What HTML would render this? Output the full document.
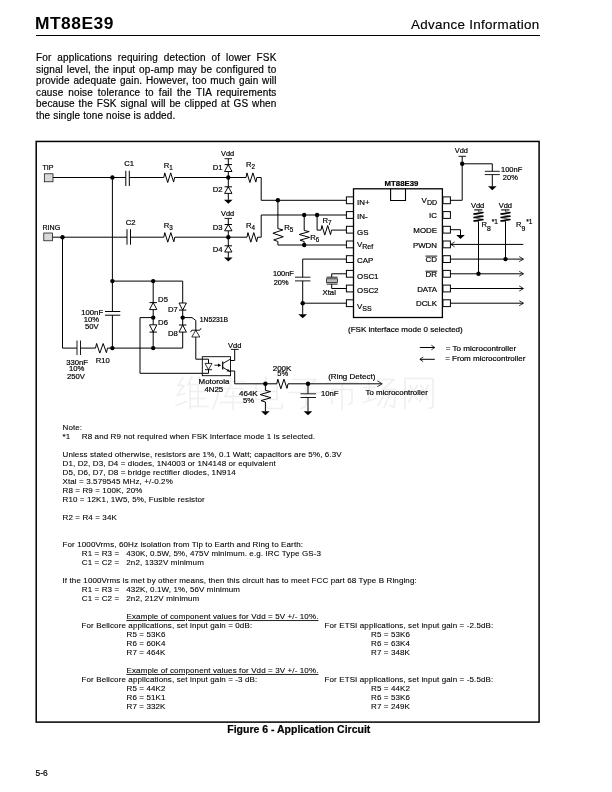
<!DOCTYPE html>
<html><head><meta charset="utf-8"><title>MT88E39</title>
<style>
html,body{margin:0;padding:0;background:#fff}
body{width:612px;height:792px;position:relative;overflow:hidden;font-family:"Liberation Sans",sans-serif;color:#000}
.h1{position:absolute;left:35.0px;top:11.2px;font-size:17.4px;font-weight:bold;line-height:24px;white-space:nowrap;letter-spacing:0.5px}
.h2{position:absolute;right:72.8px;top:15.5px;font-size:13.4px;line-height:18px;white-space:nowrap;letter-spacing:0.3px;margin-right:-0.3px;-webkit-text-stroke:0.15px #000}
.rule{position:absolute;left:36px;top:34.5px;width:503.5px;height:1.1px;background:#000}
.p{position:absolute;left:35.5px;top:52.1px;width:240.5px;font-size:10px;letter-spacing:0.14px;line-height:11.5px;color:#000;-webkit-text-stroke:0.18px #000}
.p div{text-align:justify;text-align-last:justify;white-space:nowrap}
.p div.l{text-align-last:left}
svg{position:absolute;left:0;top:0;will-change:transform}
.h1,.h2,.p{will-change:transform}
svg text{font-family:"Liberation Sans",sans-serif;fill:#000;stroke:#000;stroke-width:0.2px}
svg text.n{letter-spacing:0.115px;stroke-width:0.1px}
</style></head><body>
<div class="h1">MT88E39</div>
<div class="h2">Advance Information</div>
<div class="rule"></div>
<div class="p">
<div>For applications requiring detection of lower FSK</div>
<div>signal level, the input op-amp may be configured to</div>
<div>provide adequate gain. However, too much gain will</div>
<div>cause noise tolerance to fail the TIA requirements</div>
<div>because the FSK signal will be clipped at GS when</div>
<div class="l">the single tone noise is added.</div>
</div>
<svg width="612" height="792" viewBox="0 0 612 792" fill="none" stroke="#000" stroke-width="1" stroke-linecap="butt" stroke-linejoin="miter">
<g stroke="#f0f0f0" stroke-width="1.7" stroke-linecap="round" stroke-linejoin="round">
<path d="M183 377.5 L178 385.5 L184 385.5 L177 395.5 L185 393.5"/>
<path d="M176 405.5 L186 401.5"/>
<path d="M192 376.5 L188 384.5"/>
<path d="M190 382.5 L190 408.5"/>
<path d="M190 384.5 L207 384.5"/>
<path d="M190 391.5 L205 391.5"/>
<path d="M190 398.5 L205 398.5"/>
<path d="M190 406.5 L208 406.5"/>
<path d="M198 384.5 L198 406.5"/>
<path d="M199 376.5 L201 381.5"/>
<path d="M229 375.5 L231 379.5"/>
<path d="M216 381.5 L245 381.5"/>
<path d="M218 381.5 L218 395.5 L213 408.5"/>
<path d="M222 388.5 L243 388.5"/>
<path d="M231 384.5 L225 396.5"/>
<path d="M225 396.5 L242 396.5"/>
<path d="M220 402.5 L245 402.5"/>
<path d="M233 391.5 L233 409.5"/>
<path d="M256 383.5 L256 399.5"/>
<path d="M256 383.5 L277 383.5 L277 399.5"/>
<path d="M256 391.5 L277 391.5"/>
<path d="M256 399.5 L277 399.5"/>
<path d="M266 376.5 L266 405.5 L268 408.5 L282 408.5 L282 403.5"/>
<path d="M293 379.5 L316 379.5 L306 388.5"/>
<path d="M306 388.5 L306 406.5 L301 408.5"/>
<path d="M289 392.5 L321 392.5"/>
<path d="M341 375.5 L343 379.5"/>
<path d="M327 382.5 L357 382.5"/>
<path d="M332 389.5 L332 403.5"/>
<path d="M332 389.5 L352 389.5 L352 402.5 L349 404.5"/>
<path d="M342 382.5 L342 409.5"/>
<path d="M364 387.5 L375 387.5"/>
<path d="M369 378.5 L369 400.5"/>
<path d="M363 402.5 L376 398.5"/>
<path d="M378 379.5 L394 379.5 L383 389.5"/>
<path d="M383 389.5 L396 389.5 L394 407.5 L390 405.5"/>
<path d="M387 389.5 L378 405.5"/>
<path d="M392 389.5 L384 407.5"/>
<path d="M405 378.5 L405 408.5"/>
<path d="M405 378.5 L433 378.5 L433 407.5 L429 408.5"/>
<path d="M410 385.5 L417 399.5"/>
<path d="M417 385.5 L409 401.5"/>
<path d="M421 385.5 L428 399.5"/>
<path d="M428 385.5 L420 401.5"/>
</g>
<rect x="36.2" y="141.45" width="502.9" height="580.65" stroke-width="1.5"/>
<rect x="44.3" y="173.8" width="8.7" height="8" stroke-width="0.7" fill="#d8d8d8"/>
<rect x="43.8" y="233" width="8.7" height="7.8" stroke-width="0.7" fill="#d8d8d8"/>
<text x="42.5" y="170" font-size="7.1">TIP</text>
<text x="42.5" y="230" font-size="7.1">RING</text>
<line x1="53" y1="177.5" x2="125.8" y2="177.5"/>
<circle cx="112.4" cy="177.5" r="2.2" fill="#000" stroke="none"/>
<line x1="125.8" y1="170.8" x2="125.8" y2="186" stroke-width="1"/>
<line x1="129.3" y1="170.8" x2="129.3" y2="186" stroke-width="1"/>
<text x="124.3" y="166" font-size="7.7">C1</text>
<line x1="129.3" y1="177.5" x2="163.8" y2="177.5"/>
<path d="M163.8 177.5 L164.77 172.9 L167.69 182.5 L170.71 172.9 L173.63 182.1 L174.6 177.5" stroke-width="1"/>
<text x="163.7" y="167.5" font-size="7.7">R<tspan font-size="6.3" dy="2">1</tspan></text>
<line x1="174.6" y1="177.5" x2="246" y2="177.5"/>
<text x="221" y="155.7" font-size="7.4">Vdd</text>
<line x1="224.6" y1="158.7" x2="232" y2="158.7" stroke-width="0.9"/>
<line x1="228.3" y1="158.7" x2="228.3" y2="199.9"/>
<path d="M224.6 171.5 L232 171.5 L228.3 164.6 Z" stroke-width="0.95" fill="#fff"/>
<line x1="224.6" y1="164.6" x2="232" y2="164.6" stroke-width="1"/>
<text x="212.7" y="170.1" font-size="7.7">D1</text>
<circle cx="228.3" cy="177.5" r="2.2" fill="#000" stroke="none"/>
<path d="M224.6 193.4 L232 193.4 L228.3 186.8 Z" stroke-width="0.95" fill="#fff"/>
<line x1="224.6" y1="186.8" x2="232" y2="186.8" stroke-width="1"/>
<text x="212.7" y="192" font-size="7.7">D2</text>
<path d="M224 199.7 L232.6 199.7 L228.3 203.7 Z" fill="#000" stroke="none"/>
<path d="M246 177.5 L246.97 172.9 L249.89 182.5 L252.91 172.9 L255.83 182.1 L256.8 177.5" stroke-width="1"/>
<text x="246" y="167.2" font-size="7.7">R<tspan font-size="6.3" dy="2">2</tspan></text>
<path d="M256.8 177.5 L261.2 177.5 L261.2 200.3 L346.5 200.3"/>
<line x1="52.5" y1="237.2" x2="127" y2="237.2"/>
<circle cx="62.5" cy="237.2" r="2.2" fill="#000" stroke="none"/>
<line x1="127" y1="229.2" x2="127" y2="244.7" stroke-width="1"/>
<line x1="130.5" y1="229.2" x2="130.5" y2="244.7" stroke-width="1"/>
<text x="125.8" y="225" font-size="7.7">C2</text>
<line x1="130.5" y1="237.2" x2="163.8" y2="237.2"/>
<path d="M163.8 237.2 L164.79 232.6 L167.76 242.2 L170.84 232.6 L173.81 241.8 L174.8 237.2" stroke-width="1"/>
<text x="163.7" y="227.7" font-size="7.7">R<tspan font-size="6.3" dy="2">3</tspan></text>
<line x1="174.8" y1="237.2" x2="247" y2="237.2"/>
<text x="221" y="216.3" font-size="7.4">Vdd</text>
<line x1="224.6" y1="218.4" x2="232" y2="218.4" stroke-width="0.9"/>
<line x1="228.3" y1="218.4" x2="228.3" y2="257.7"/>
<path d="M224.6 230.8 L232 230.8 L228.3 224.5 Z" stroke-width="0.95" fill="#fff"/>
<line x1="224.6" y1="224.5" x2="232" y2="224.5" stroke-width="1"/>
<text x="212.7" y="230" font-size="7.7">D3</text>
<circle cx="228.3" cy="237.2" r="2.2" fill="#000" stroke="none"/>
<path d="M224.6 252 L232 252 L228.3 245.8 Z" stroke-width="0.95" fill="#fff"/>
<line x1="224.6" y1="245.8" x2="232" y2="245.8" stroke-width="1"/>
<text x="212.7" y="251.5" font-size="7.7">D4</text>
<path d="M224 257.5 L232.6 257.5 L228.3 261.5 Z" fill="#000" stroke="none"/>
<path d="M247 237.2 L247.95 232.6 L250.82 242.2 L253.78 232.6 L256.65 241.8 L257.6 237.2" stroke-width="1"/>
<text x="246" y="227.7" font-size="7.7">R<tspan font-size="6.3" dy="2">4</tspan></text>
<path d="M257.6 237.2 L261.2 237.2 L261.2 215 L346.5 215"/>
<circle cx="277.9" cy="200.3" r="2.2" fill="#000" stroke="none"/>
<line x1="277.9" y1="200.3" x2="277.9" y2="228.6"/>
<path d="M277.9 228.6 L282.9 229.89 L272.9 233.24 L283.3 236.73 L273.7 239.95 L277.9 241.5" stroke-width="1"/>
<path d="M277.9 241.5 L277.9 245 L346.5 245"/>
<text x="284.2" y="230.3" font-size="7.7">R<tspan font-size="6.3" dy="2">5</tspan></text>
<circle cx="304.2" cy="215" r="2.2" fill="#000" stroke="none"/>
<circle cx="304.2" cy="245" r="2.2" fill="#000" stroke="none"/>
<line x1="304.2" y1="215" x2="304.2" y2="230.5"/>
<path d="M304.2 230.5 L309.2 231.6 L299.2 234.46 L309.6 237.43 L300 240.18 L304.2 241.5" stroke-width="1"/>
<line x1="304.2" y1="241.5" x2="304.2" y2="245"/>
<text x="310.2" y="239.7" font-size="7.7">R<tspan font-size="6.3" dy="2">6</tspan></text>
<circle cx="317.1" cy="215" r="2.2" fill="#000" stroke="none"/>
<path d="M317.1 215 L317.1 230.1 L321 230.1"/>
<path d="M321 230.1 L321.94 225.5 L324.78 235.1 L327.72 225.5 L330.56 234.7 L331.5 230.1" stroke-width="1"/>
<line x1="331.5" y1="230.1" x2="346.5" y2="230.1"/>
<text x="322.4" y="223.4" font-size="7.7">R<tspan font-size="6.3" dy="2">7</tspan></text>
<path d="M346.5 259.1 L302.7 259.1 L302.7 277.2"/>
<line x1="295" y1="277.2" x2="310.4" y2="277.2" stroke-width="0.9"/>
<line x1="295" y1="280.9" x2="310.4" y2="280.9" stroke-width="0.9"/>
<line x1="302.7" y1="280.9" x2="302.7" y2="314.5"/>
<circle cx="302.7" cy="303.2" r="2.2" fill="#000" stroke="none"/>
<line x1="302.7" y1="303.2" x2="346.5" y2="303.2"/>
<path d="M298.4 314.3 L307 314.3 L302.7 318.3 Z" fill="#000" stroke="none"/>
<text x="272.9" y="275.7" font-size="7.4">100nF</text>
<text x="273.7" y="284.9" font-size="7.4">20%</text>
<path d="M346.5 273.8 L331.7 273.8 L331.7 277.2"/>
<line x1="326.6" y1="277.2" x2="337.6" y2="277.2" stroke-width="0.9"/>
<rect x="326.6" y="278.8" width="11" height="3.6" stroke-width="0.7" fill="#bbb"/>
<line x1="326.6" y1="284.1" x2="337.6" y2="284.1" stroke-width="0.9"/>
<path d="M331.7 284.1 L331.7 288.5 L346.5 288.5"/>
<text x="322.6" y="294.6" font-size="7.7">Xtal</text>
<rect x="353.5" y="188.8" width="88.9" height="128.7" stroke-width="1.3"/>
<path d="M390.6 188.8 L390.6 200.5 L405.5 200.5 L405.5 188.8" stroke-width="1.1"/>
<text x="384.6" y="186" font-size="7.8" font-weight="bold">MT88E39</text>
<rect x="346.4" y="196.9" width="7.1" height="6.8" stroke-width="1"/>
<rect x="442.9" y="196.9" width="7.5" height="6.8" stroke-width="1"/>
<rect x="346.4" y="211.6" width="7.1" height="6.8" stroke-width="1"/>
<rect x="442.9" y="211.6" width="7.5" height="6.8" stroke-width="1"/>
<rect x="346.4" y="226.3" width="7.1" height="6.8" stroke-width="1"/>
<rect x="442.9" y="226.3" width="7.5" height="6.8" stroke-width="1"/>
<rect x="346.4" y="241" width="7.1" height="6.8" stroke-width="1"/>
<rect x="442.9" y="241" width="7.5" height="6.8" stroke-width="1"/>
<rect x="346.4" y="255.7" width="7.1" height="6.8" stroke-width="1"/>
<rect x="442.9" y="255.7" width="7.5" height="6.8" stroke-width="1"/>
<rect x="346.4" y="270.4" width="7.1" height="6.8" stroke-width="1"/>
<rect x="442.9" y="270.4" width="7.5" height="6.8" stroke-width="1"/>
<rect x="346.4" y="285.1" width="7.1" height="6.8" stroke-width="1"/>
<rect x="442.9" y="285.1" width="7.5" height="6.8" stroke-width="1"/>
<rect x="346.4" y="299.8" width="7.1" height="6.8" stroke-width="1"/>
<rect x="442.9" y="299.8" width="7.5" height="6.8" stroke-width="1"/>
<text x="357" y="204.8" font-size="7.9">IN+</text>
<text x="357" y="219.4" font-size="7.9">IN-</text>
<text x="357" y="234.5" font-size="7.9">GS</text>
<text x="357" y="246.9" font-size="7.9">V<tspan font-size="7" dy="2.4">Ref</tspan></text>
<text x="357" y="262.6" font-size="7.9">CAP</text>
<text x="357" y="278.7" font-size="7.9">OSC1</text>
<text x="357" y="292.7" font-size="7.9">OSC2</text>
<text x="357" y="308.7" font-size="7.9">V<tspan font-size="7" dy="2.4">SS</tspan></text>
<text x="437" y="203.1" font-size="7.9" text-anchor="end">V<tspan font-size="7" dy="2.3">DD</tspan></text>
<text x="437" y="217.7" font-size="7.9" text-anchor="end">IC</text>
<text x="437" y="232.7" font-size="7.9" text-anchor="end">MODE</text>
<text x="437" y="247.5" font-size="7.9" text-anchor="end">PWDN</text>
<text x="437" y="261.7" font-size="7.9" text-anchor="end">CD</text>
<text x="437" y="276.8" font-size="7.9" text-anchor="end">DR</text>
<text x="437" y="291.8" font-size="7.9" text-anchor="end">DATA</text>
<text x="437" y="305.8" font-size="7.9" text-anchor="end">DCLK</text>
<line x1="425.4" y1="256.1" x2="437.2" y2="256.1" stroke-width="0.9"/>
<line x1="425.4" y1="271.2" x2="437.2" y2="271.2" stroke-width="0.9"/>
<text x="348" y="332" font-size="8">(FSK interface mode 0 selected)</text>
<text x="454.8" y="153" font-size="7.4">Vdd</text>
<line x1="458.5" y1="156.3" x2="466" y2="156.3" stroke-width="0.9"/>
<path d="M462.2 156.3 L462.2 200.3 L450.3 200.3"/>
<circle cx="462.2" cy="163.8" r="2.2" fill="#000" stroke="none"/>
<path d="M462.2 163.8 L492.3 163.8 L492.3 171.3"/>
<line x1="484.8" y1="171.3" x2="499.8" y2="171.3" stroke-width="0.9"/>
<line x1="484.8" y1="174.6" x2="499.8" y2="174.6" stroke-width="0.9"/>
<line x1="492.3" y1="174.6" x2="492.3" y2="186.5"/>
<path d="M488 186.3 L496.6 186.3 L492.3 190.3 Z" fill="#000" stroke="none"/>
<text x="501" y="171.8" font-size="7.5">100nF</text>
<text x="502.8" y="180.1" font-size="7.5">20%</text>
<path d="M450.3 229.7 L460.5 229.7 L460.5 235.3"/>
<path d="M456.2 235.1 L464.8 235.1 L460.5 239.1 Z" fill="#000" stroke="none"/>
<line x1="451" y1="244.4" x2="523.3" y2="244.4"/>
<path d="M454.7 241.9 L450.8 244.4 L454.7 246.9" stroke-width="0.8"/>
<line x1="450.3" y1="259.1" x2="523" y2="259.1"/>
<path d="M519.2 256.6 L523.6 259.1 L519.2 261.6" stroke-width="0.8"/>
<line x1="450.3" y1="273.8" x2="523" y2="273.8"/>
<path d="M519.2 271.3 L523.6 273.8 L519.2 276.3" stroke-width="0.8"/>
<line x1="450.3" y1="288.5" x2="523" y2="288.5"/>
<path d="M519.2 286 L523.6 288.5 L519.2 291" stroke-width="0.8"/>
<line x1="450.3" y1="303.2" x2="523" y2="303.2"/>
<path d="M519.2 300.7 L523.6 303.2 L519.2 305.7" stroke-width="0.8"/>
<text x="470.9" y="208.4" font-size="7.5">Vdd</text>
<text x="498.7" y="208.4" font-size="7.5">Vdd</text>
<line x1="474.2" y1="209.9" x2="482.4" y2="209.9" stroke-width="1.1"/>
<line x1="501.2" y1="209.9" x2="509.4" y2="209.9" stroke-width="1.1"/>
<path d="M478.5 210 L478.5 211.6 L483.4 212.6 L473.6 214 L483.4 216.2 L473.6 217.6 L483.4 219.5 L473.6 220.9 L478.5 221.6" stroke-width="0.6"/>
<line x1="473.6" y1="214" x2="483.4" y2="212.6" stroke-width="1.5"/>
<line x1="473.6" y1="217.6" x2="483.4" y2="216.2" stroke-width="1.5"/>
<line x1="473.6" y1="220.9" x2="483.4" y2="219.5" stroke-width="1.5"/>
<line x1="478.5" y1="221.4" x2="478.5" y2="273.8"/>
<circle cx="478.5" cy="273.8" r="2.2" fill="#000" stroke="none"/>
<path d="M505.5 210 L505.5 211.6 L510.4 212.6 L500.6 214 L510.4 216.2 L500.6 217.6 L510.4 219.5 L500.6 220.9 L505.5 221.6" stroke-width="0.6"/>
<line x1="500.6" y1="214" x2="510.4" y2="212.6" stroke-width="1.5"/>
<line x1="500.6" y1="217.6" x2="510.4" y2="216.2" stroke-width="1.5"/>
<line x1="500.6" y1="220.9" x2="510.4" y2="219.5" stroke-width="1.5"/>
<line x1="505.5" y1="221.4" x2="505.5" y2="259.1"/>
<circle cx="505.5" cy="259.1" r="2.2" fill="#000" stroke="none"/>
<text x="481.5" y="227.4" font-size="7.6">R<tspan font-size="6.8" dy="3.1">8</tspan><tspan font-size="6.6" dy="-6.3" dx="1.0">*1</tspan></text>
<text x="515.9" y="227.4" font-size="7.6">R<tspan font-size="6.8" dy="3.1">9</tspan><tspan font-size="6.6" dy="-6.3" dx="1.0">*1</tspan></text>
<line x1="419.8" y1="347.5" x2="434.5" y2="347.5"/>
<path d="M431.4 345.2 L434.8 347.5 L431.4 349.8" stroke-width="0.8"/>
<line x1="420" y1="359.3" x2="434.8" y2="359.3"/>
<path d="M423.2 357 L419.8 359.3 L423.2 361.6" stroke-width="0.8"/>
<text x="445.8" y="350.5" font-size="8.05">= To microcontroller</text>
<text x="445.2" y="361.2" font-size="8">= From microcontroller</text>
<line x1="112.4" y1="177.5" x2="112.4" y2="311.5"/>
<circle cx="112.4" cy="281.1" r="2.2" fill="#000" stroke="none"/>
<line x1="105" y1="311.5" x2="120.3" y2="311.5" stroke-width="1"/>
<line x1="105" y1="315.2" x2="120.3" y2="315.2" stroke-width="1"/>
<line x1="112.4" y1="315.2" x2="112.4" y2="348.1"/>
<text x="81.3" y="314.5" font-size="7.7">100nF</text>
<text x="83.8" y="321.7" font-size="7.7">10%</text>
<text x="85" y="328.7" font-size="7.7">50V</text>
<path d="M112.4 281.1 L182.7 281.1 L182.7 348.1 L107.5 348.1"/>
<line x1="153.2" y1="281.1" x2="153.2" y2="348.1"/>
<circle cx="153.2" cy="281.1" r="2.2" fill="#000" stroke="none"/>
<circle cx="153.2" cy="317.6" r="2.2" fill="#000" stroke="none"/>
<circle cx="153.2" cy="348.1" r="2.2" fill="#000" stroke="none"/>
<circle cx="182.7" cy="317.6" r="2.2" fill="#000" stroke="none"/>
<circle cx="112.4" cy="348.1" r="2.2" fill="#000" stroke="none"/>
<path d="M149.5 309.6 L156.9 309.6 L153.2 302.6 Z" stroke-width="0.95" fill="#fff"/>
<line x1="149.5" y1="302.6" x2="156.9" y2="302.6" stroke-width="1"/>
<path d="M149.5 324.8 L156.9 324.8 L153.2 332.1 Z" stroke-width="0.95" fill="#fff"/>
<line x1="149.5" y1="332.1" x2="156.9" y2="332.1" stroke-width="1"/>
<path d="M179 303 L186.4 303 L182.7 310.1 Z" stroke-width="0.95" fill="#fff"/>
<line x1="179" y1="310.1" x2="186.4" y2="310.1" stroke-width="1"/>
<path d="M179 332.1 L186.4 332.1 L182.7 325 Z" stroke-width="0.95" fill="#fff"/>
<line x1="179" y1="325" x2="186.4" y2="325" stroke-width="1"/>
<text x="158.1" y="301.7" font-size="7.7">D5</text>
<text x="158.1" y="325.2" font-size="7.7">D6</text>
<text x="167.9" y="311.5" font-size="7.7">D7</text>
<text x="167.9" y="335.6" font-size="7.7">D8</text>
<path d="M62.5 237.2 L62.5 348.1 L77 348.1"/>
<line x1="77" y1="340.5" x2="77" y2="355" stroke-width="0.9"/>
<line x1="80.5" y1="340.5" x2="80.5" y2="355" stroke-width="0.9"/>
<line x1="80.5" y1="348.1" x2="95.5" y2="348.1"/>
<path d="M95.5 348.1 L96.58 343.5 L99.82 353.1 L103.18 343.5 L106.42 352.7 L107.5 348.1" stroke-width="1"/>
<text x="66.2" y="365" font-size="7.7">330nF</text>
<text x="69" y="370.8" font-size="7.7">10%</text>
<text x="67" y="378.8" font-size="7.7">250V</text>
<text x="95.8" y="362.5" font-size="7.7">R10</text>
<path d="M153.2 317.6 L140 317.6 L140 373.3 L202.3 373.3"/>
<path d="M182.7 317.6 L192 317.6 L195.8 320.5 L195.8 359.2 L202.3 359.2"/>
<path d="M191.8 337 L199.8 337 L195.8 330.2 Z" stroke-width="0.8" fill="#fff"/>
<path d="M190.6 332.2 L191.8 330.2 L199.8 330.2 L201 328.2" stroke-width="0.9"/>
<text x="199.7" y="321.9" font-size="6.8">1N5231B</text>
<rect x="202.3" y="356.7" width="28.2" height="19" stroke-width="0.9"/>
<path d="M202.3 359.2 L208.5 359.2 L208.5 373.3 L202.3 373.3"/>
<path d="M205 363.4 L212 363.4 L208.5 369.7 Z" stroke-width="0.8" fill="#fff"/>
<line x1="205" y1="369.7" x2="212" y2="369.7" stroke-width="0.9"/>
<line x1="214.4" y1="365.2" x2="219" y2="365.2" stroke-width="0.9"/>
<path d="M218 363.4 L221.2 365.2 L218 367 Z" fill="#000" stroke="none"/>
<line x1="222.7" y1="361.4" x2="222.7" y2="369.5" stroke-width="1.2"/>
<line x1="222.7" y1="363.6" x2="230.3" y2="359.2" stroke-width="0.9"/>
<line x1="222.7" y1="367.3" x2="230.3" y2="371.7" stroke-width="0.9"/>
<path d="M230.3 371.7 L226.6 371.3 L228 368.9 Z" fill="#000" stroke="none"/>
<text x="228.1" y="347.5" font-size="7.5">Vdd</text>
<line x1="230.8" y1="349.4" x2="238.6" y2="349.4" stroke-width="0.9"/>
<path d="M234.7 349.4 L234.7 360.5 L230.5 360.5"/>
<path d="M230.5 371 L234.7 371 L234.7 383.8 L276.8 383.8"/>
<text x="198.6" y="384.4" font-size="7.9">Motorola</text>
<text x="204.4" y="392.2" font-size="7.9">4N25</text>
<circle cx="265.4" cy="383.8" r="2.2" fill="#000" stroke="none"/>
<line x1="265.4" y1="383.8" x2="265.4" y2="390.4"/>
<path d="M265.4 390.4 L270.6 391.56 L260.2 394.58 L271 397.71 L261 400.61 L265.4 402" stroke-width="1"/>
<line x1="265.4" y1="402" x2="265.4" y2="411.5"/>
<path d="M261.1 411.3 L269.7 411.3 L265.4 415.3 Z" fill="#000" stroke="none"/>
<text x="239" y="396.1" font-size="8">464K</text>
<text x="243" y="403.3" font-size="7.7">5%</text>
<path d="M276.8 383.8 L277.81 379.2 L280.83 388.8 L283.97 379.2 L286.99 388.4 L288 383.8" stroke-width="1"/>
<text x="272.7" y="370.6" font-size="8">200K</text>
<text x="277.2" y="376.4" font-size="7.6">5%</text>
<line x1="288" y1="383.8" x2="381.5" y2="383.8"/>
<path d="M377.3 380.9 L382.3 383.8 L377.3 386.7" stroke-width="0.8"/>
<circle cx="308" cy="383.8" r="2.2" fill="#000" stroke="none"/>
<line x1="308" y1="383.8" x2="308" y2="393.8"/>
<line x1="300.5" y1="393.8" x2="316" y2="393.8" stroke-width="0.9"/>
<line x1="300.5" y1="397.5" x2="316" y2="397.5" stroke-width="0.9"/>
<line x1="308" y1="397.5" x2="308" y2="411.5"/>
<path d="M303.7 411.3 L312.3 411.3 L308 415.3 Z" fill="#000" stroke="none"/>
<text x="321" y="396.1" font-size="7.7">10nF</text>
<text x="328.2" y="379.2" font-size="8">(Ring Detect)</text>
<text x="365.5" y="394.5" font-size="7.9">To microcontroller</text>
<text x="62.5" y="429.5" font-size="8" class="n">Note:</text>
<text x="62.5" y="438.7" font-size="8" class="n">*1</text>
<text x="81.8" y="438.7" font-size="8" class="n">R8 and R9 not required when FSK interface mode 1 is selected.</text>
<text x="62.5" y="456.7" font-size="8" class="n">Unless stated otherwise, resistors are 1%, 0.1 Watt; capacitors are 5%, 6.3V</text>
<text x="62.5" y="465.7" font-size="8" class="n">D1, D2, D3, D4 = diodes, 1N4003 or 1N4148 or equivalent</text>
<text x="62.5" y="474.7" font-size="8" class="n">D5, D6, D7, D8 = bridge rectifier diodes, 1N914</text>
<text x="62.5" y="483.6" font-size="8" class="n">Xtal = 3.579545 MHz, +/-0.2%</text>
<text x="62.5" y="492.6" font-size="8" class="n">R8 = R9 = 100K, 20%</text>
<text x="62.5" y="501.6" font-size="8" class="n">R10 = 12K1, 1W5, 5%, Fusible resistor</text>
<text x="62.5" y="519.5" font-size="8" class="n">R2 = R4 = 34K</text>
<text x="62.5" y="546.5" font-size="8" class="n">For 1000Vrms, 60Hz isolation from Tip to Earth and Ring to Earth:</text>
<text x="81.8" y="555.7" font-size="8" class="n">R1 = R3 =</text>
<text x="126.3" y="555.7" font-size="8" class="n">430K, 0.5W, 5%, 475V minimum.  e.g. IRC Type GS-3</text>
<text x="81.8" y="564.8" font-size="8" class="n">C1 = C2 =</text>
<text x="126.3" y="564.8" font-size="8" class="n">2n2, 1332V minimum</text>
<text x="62.5" y="582.6" font-size="8" class="n">If the 1000Vrms is met by other means, then this circuit has to meet FCC part 68 Type B Ringing:</text>
<text x="81.8" y="591.7" font-size="8" class="n">R1 = R3 =</text>
<text x="126.3" y="591.7" font-size="8" class="n">432K, 0.1W, 1%, 56V minimum</text>
<text x="81.8" y="600.7" font-size="8" class="n">C1 = C2 =</text>
<text x="126.3" y="600.7" font-size="8" class="n">2n2, 212V minimum</text>
<text x="126.5" y="619.2" font-size="8" class="n"><tspan text-decoration="underline">Example of component values for Vdd = 5V +/- 10%.</tspan></text>
<text x="81.5" y="628" font-size="8" class="n">For Bellcore applications, set input gain = 0dB:</text>
<text x="324.5" y="628" font-size="8" class="n">For ETSI applications, set input gain = -2.5dB:</text>
<text x="126.5" y="637" font-size="8" class="n">R5 = 53K6</text>
<text x="371" y="637" font-size="8" class="n">R5 = 53K6</text>
<text x="126.5" y="646" font-size="8" class="n">R6 = 60K4</text>
<text x="371" y="646" font-size="8" class="n">R6 = 63K4</text>
<text x="126.5" y="655" font-size="8" class="n">R7 = 464K</text>
<text x="371" y="655" font-size="8" class="n">R7 = 348K</text>
<text x="126.5" y="673" font-size="8" class="n"><tspan text-decoration="underline">Example of component values for Vdd = 3V +/- 10%.</tspan></text>
<text x="81.5" y="682" font-size="8" class="n">For Bellcore applications, set input gain = -3 dB:</text>
<text x="324.5" y="682" font-size="8" class="n">For ETSI applications, set input gain = -5.5dB:</text>
<text x="126.5" y="691" font-size="8" class="n">R5 = 44K2</text>
<text x="371" y="691" font-size="8" class="n">R5 = 44K2</text>
<text x="126.5" y="700" font-size="8" class="n">R6 = 51K1</text>
<text x="371" y="700" font-size="8" class="n">R6 = 53K6</text>
<text x="126.5" y="709" font-size="8" class="n">R7 = 332K</text>
<text x="371" y="709" font-size="8" class="n">R7 = 249K</text>
<text x="298.8" y="732.7" font-size="10.5" text-anchor="middle" font-weight="bold" stroke-width="0">Figure 6 - Application Circuit</text>
<text x="35.6" y="776" font-size="8.4" stroke-width="0.1">5-6</text>
</svg>
</body></html>
